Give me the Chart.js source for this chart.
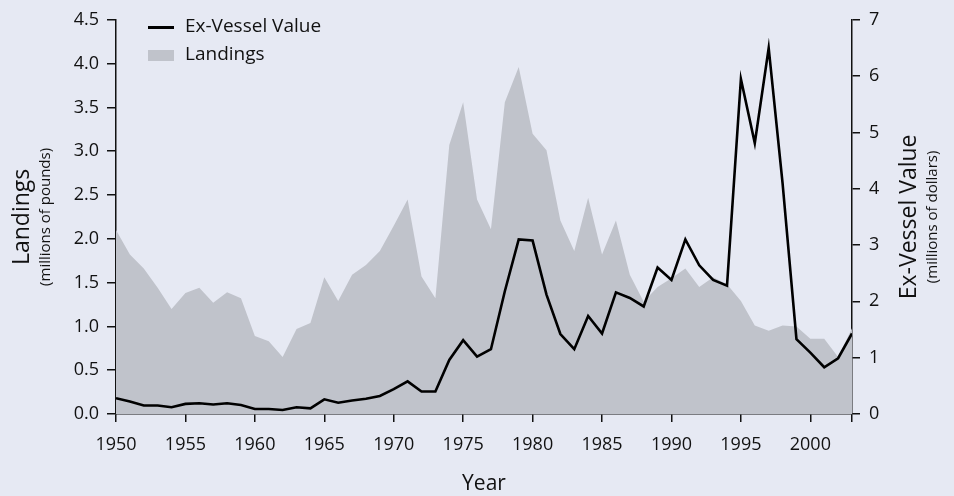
<!DOCTYPE html>
<html>
<head>
<meta charset="utf-8">
<script src="https://cdn.jsdelivr.net/npm/chart.js@4"></script>
<style>
  html, body { margin: 0; padding: 0; background: #e6e9f3; }
  canvas { display: block; }
</style>
</head>
<body>
<canvas id="chart" width="954" height="496"></canvas>
<script>
// data
const years = [];
for (let y = 1950; y <= 2003; y++) years.push(y);

// landings, millions of pounds
const landings = [2.10, 1.82, 1.66, 1.44, 1.20, 1.38, 1.44, 1.27, 1.39, 1.32,
  0.89, 0.83, 0.65, 0.97, 1.04, 1.56, 1.29, 1.59, 1.70, 1.86,
  2.15, 2.45, 1.57, 1.32, 3.07, 3.56, 2.45, 2.11, 3.56, 3.96,
  3.20, 3.01, 2.21, 1.86, 2.47, 1.82, 2.21, 1.59, 1.28, 1.45,
  1.55, 1.66, 1.45, 1.56, 1.48, 1.29, 1.01, 0.95, 1.01, 1.00,
  0.86, 0.86, 0.65, 0.98];

// ex-vessel value, millions of dollars
const exVessel = [0.28, 0.22, 0.15, 0.15, 0.12, 0.18, 0.19, 0.17, 0.19, 0.16,
  0.09, 0.09, 0.07, 0.12, 0.10, 0.26, 0.20, 0.24, 0.27, 0.32,
  0.44, 0.58, 0.40, 0.40, 0.96, 1.31, 1.02, 1.15, 2.18, 3.10,
  3.08, 2.12, 1.42, 1.15, 1.74, 1.43, 2.16, 2.06, 1.91, 2.60,
  2.38, 3.10, 2.64, 2.38, 2.28, 5.95, 4.81, 6.50, 4.10, 1.33,
  1.09, 0.83, 0.99, 1.43];

const xTicks = [1950, 1955, 1960, 1965, 1970, 1975, 1980, 1985, 1990, 1995, 2000, 2003];
const xTickLabels = ['1950', '1955', '1960', '1965', '1970', '1975', '1980', '1985', '1990', '1995', '2000', ''];

const areaColor = '#c0c3cb';
const FONT = "'Open Sans', sans-serif";

Chart.defaults.font.family = FONT;
Chart.defaults.color = '#111';

// axis titles + legend drawn by hand
const decorations = {
  id: 'decorations',
  afterDraw(chart) {
    const ctx = chart.ctx;
    const area = chart.chartArea;
    const cy = (area.top + area.bottom) / 2;
    ctx.save();
    ctx.fillStyle = '#111';
    ctx.textAlign = 'center';
    ctx.textBaseline = 'middle';

    const vtext = (txt, x, size) => {
      ctx.save();
      ctx.translate(x, cy);
      ctx.rotate(-Math.PI / 2);
      ctx.font = size + 'px ' + FONT;
      ctx.fillText(txt, 0, 0);
      ctx.restore();
    };
    vtext('Landings', 22, 23);
    vtext('(millions of pounds)', 46, 15);
    vtext('Ex-Vessel Value', 909, 23);
    vtext('(millions of dollars)', 933, 15);

    ctx.font = '21px ' + FONT;
    ctx.fillText('Year', (area.left + area.right) / 2, 484);

    // legend
    ctx.textAlign = 'left';
    ctx.font = '19px ' + FONT;
    ctx.fillStyle = '#000';
    ctx.fillRect(148, 26, 26, 3);
    ctx.fillStyle = '#111';
    ctx.fillText('Ex-Vessel Value', 185, 27);
    ctx.fillStyle = areaColor;
    ctx.fillRect(148, 50, 26, 11);
    ctx.fillStyle = '#111';
    ctx.fillText('Landings', 185, 55);
    ctx.restore();
  }
};

const ctx = document.getElementById('chart').getContext('2d');
const myChart = new Chart(ctx, {
  type: 'line',
  data: {
    datasets: [{
      label: 'Ex-Vessel Value',
      data: years.map((y, i) => ({ x: y, y: exVessel[i] })),
      yAxisID: 'y2',
      borderColor: '#000',
      borderWidth: 2.6,
      borderJoinStyle: 'miter',
      pointRadius: 0,
      fill: false,
      tension: 0,
      order: 0
    }, {
      label: 'Landings',
      data: years.map((y, i) => ({ x: y, y: landings[i] })),
      yAxisID: 'y',
      borderWidth: 0,
      backgroundColor: areaColor,
      pointRadius: 0,
      fill: 'origin',
      tension: 0,
      order: 1
    }]
  },
  options: {
    responsive: false,
    animation: false,
    devicePixelRatio: 1,
    layout: { padding: { top: 15, left: 0, right: 0, bottom: 0 } },
    plugins: { legend: { display: false }, tooltip: { enabled: false } },
    scales: {
      x: {
        type: 'linear',
        min: 1950,
        max: 2003,
        afterBuildTicks: (scale) => { scale.ticks = xTicks.map(v => ({ value: v })); },
        afterFit: (scale) => { scale.height = 82; },
        ticks: {
          autoSkip: false,
          maxRotation: 0,
          padding: 12,
          font: { size: 18 },
          callback: (v) => xTickLabels[xTicks.indexOf(v)]
        },
        grid: { drawOnChartArea: false, drawTicks: true, tickLength: 8, color: '#111', lineWidth: 1.5 },
        border: { color: '#111', width: 1.5 }
      },
      y: {
        position: 'left',
        min: 0,
        max: 4.5,
        afterFit: (scale) => { scale.width = 116; },
        ticks: {
          stepSize: 0.5,
          padding: 8,
          font: { size: 18 },
          callback: (v) => v.toFixed(1)
        },
        grid: { drawOnChartArea: false, drawTicks: true, tickLength: 9, color: '#111', lineWidth: 1.5 },
        border: { color: '#111', width: 1.5 }
      },
      y2: {
        position: 'right',
        min: 0,
        max: 7,
        afterFit: (scale) => { scale.width = 102; },
        ticks: {
          stepSize: 1,
          padding: 9,
          font: { size: 18 }
        },
        grid: { drawOnChartArea: false, drawTicks: true, tickLength: 8, color: '#111', lineWidth: 1.5 },
        border: { color: '#111', width: 1.5 }
      }
    }
  },
  plugins: [decorations]
});
</script>
</body>
</html>
